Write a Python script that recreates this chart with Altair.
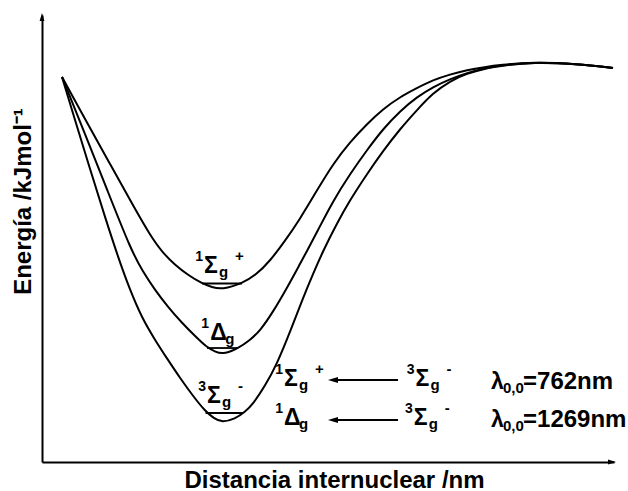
import altair as alt
import pandas as pd

FONT = "Liberation Sans"

# ---------------- potential energy curves (arbitrary units 0-100) ----------------
state_names = ["1Σg+", "1Δg", "3Σg-"]

r_sigma_plus = [3.50, 7.52, 11.89, 16.26, 18.88, 20.98, 23.25, 25.52, 27.97, 29.72, 31.47,
                34.97, 37.41, 39.86, 42.48, 45.10, 47.90, 50.87, 53.85, 56.82, 59.62, 62.59,
                65.56, 68.36, 71.33, 74.30, 77.45, 80.07, 85.84, 93.53, 99.83]
E_sigma_plus = [86.13, 76.73, 66.67, 56.60, 50.78, 46.98, 44.07, 41.83, 39.93, 39.08, 38.59,
                39.93, 41.83, 44.97, 49.44, 54.36, 60.40, 66.67, 71.59, 75.62, 78.97, 81.66,
                83.67, 85.46, 86.69, 87.70, 88.37, 88.81, 89.49, 89.04, 88.14]

r_delta = [3.50, 7.52, 11.54, 15.56, 17.66, 19.76, 22.03, 24.48, 26.75, 28.85, 30.24, 31.56,
           34.27, 36.36, 38.11, 40.38, 42.83, 45.10, 46.33, 48.08, 50.87, 53.85, 56.82, 59.62,
           62.59, 65.56, 68.36, 71.33, 74.30, 77.45, 80.07, 85.84, 93.53, 99.83]
E_delta = [86.13, 73.38, 60.40, 47.43, 42.51, 38.48, 34.68, 31.10, 28.19, 25.62, 24.72, 24.05,
           25.39, 27.29, 29.31, 33.56, 38.93, 44.30, 47.20, 51.45, 58.39, 64.43, 69.80, 74.50,
           78.52, 81.66, 83.89, 85.68, 87.02, 88.14, 88.70, 89.49, 89.04, 88.14]

r_triplet = [3.50, 5.77, 8.39, 11.01, 13.29, 15.38, 17.48, 19.76, 22.03, 24.13, 26.40, 28.50,
             30.07, 31.47, 33.74, 35.49, 36.89, 38.99, 41.08, 43.36, 45.63, 47.38, 49.13,
             51.40, 53.85, 56.82, 59.62, 62.59, 65.56, 68.36, 71.33, 74.30, 77.45, 80.07,
             85.84, 93.53, 99.83]
E_triplet = [86.13, 76.51, 65.55, 54.81, 45.86, 38.48, 32.21, 27.29, 22.82, 18.79, 14.77, 11.41,
             9.73, 8.84, 9.62, 11.19, 12.98, 17.00, 21.92, 29.08, 36.69, 42.06, 47.20,
             53.02, 58.61, 64.43, 69.57, 74.50, 78.75, 82.55, 85.23, 86.91, 88.03, 88.59,
             89.49, 89.04, 88.14]

# v = 0 vibrational levels
level_E = [39.93, 25.50, 10.96]
level_r_start = [27.97, 28.85, 28.59]
level_r_end = [34.97, 34.27, 35.14]

# term symbol labels: multiplicity, symbol, parity subscript, reflection sign
term_mult = ["1", "1", "3", "1", "3", "1", "3"]
term_sym = ["Σ", "Δ", "Σ", "Σ", "Σ", "Δ", "Σ"]
term_sub = ["g", "g", "g", "g", "g", "g", "g"]
term_sign = ["+", "", "-", "+", "-", "", "-"]

# transitions and wavelengths
wavelengths = ["762nm", "1269nm"]
lambda_sub = ["0,0", "0,0"]

# ---------------- tables ----------------
rows = []
for name, rs, es in zip(state_names, [r_sigma_plus, r_delta, r_triplet],
                        [E_sigma_plus, E_delta, E_triplet]):
    for i, (r, e) in enumerate(zip(rs, es)):
        rows.append({"state": name, "r": r, "E": e, "i": i})
curves = pd.DataFrame(rows)

levels = pd.DataFrame({"state": state_names, "E": level_E,
                       "r": level_r_start, "r2": level_r_end})

# annotation anchor positions (left/baseline of main glyph), in data units
term_r = [28.32, 29.40, 28.85, 42.31, 65.30, 42.31, 65.00]
term_E = [42.28, 27.29, 13.20, 17.00, 17.00, 8.28, 8.28]
terms = pd.DataFrame({"r": term_r, "E": term_E, "mult": term_mult, "sym": term_sym,
                      "sub": term_sub, "sign": term_sign})

arrow_E = [18.34, 9.40]
arrows = pd.DataFrame({"E": arrow_E, "r": [50.87, 50.87], "r2": [62.24, 62.24]})

lam = pd.DataFrame({"r": [78.5, 78.5], "E": [16.33, 7.83], "sub": lambda_sub,
                    "val": ["=" + w for w in wavelengths]})

axis_heads_y = pd.DataFrame({"r": [0.0], "E": [99.55]})
axis_heads_x = pd.DataFrame({"r": [99.65], "E": [0.0]})

# ---------------- scales & axes ----------------
xs = alt.Scale(domain=[0, 100], nice=False, zero=False)
ys = alt.Scale(domain=[0, 100], nice=False, zero=False)
xaxis = alt.Axis(title="Distancia internuclear /nm", ticks=False, labels=False, grid=False,
                 domainColor="black", domainWidth=2, titleFont=FONT, titleFontSize=24,
                 titleFontWeight="bold", titleColor="black", titleX=292, titleY=25,
                 titleAlign="center", titleBaseline="alphabetic")
yaxis = alt.Axis(title="Energía /kJmol⁻¹", ticks=False, labels=False, grid=False,
                 domainColor="black", domainWidth=2, titleFont=FONT, titleFontSize=24,
                 titleFontWeight="bold", titleColor="black", titleX=-12, titleY=186,
                 titleAlign="center", titleBaseline="alphabetic")


def X():
    return alt.X("r:Q", scale=xs, axis=xaxis)


def Y():
    return alt.Y("E:Q", scale=ys, axis=yaxis)


curve_layer = alt.Chart(curves).mark_line(
    color="black", strokeWidth=2, interpolate="basis"
).encode(x=X(), y=Y(), detail="state:N", order="i:Q")

level_layer = alt.Chart(levels).mark_rule(color="black", strokeWidth=1.8).encode(
    x=X(), x2="r2:Q", y=Y())

txt = dict(font=FONT, fontWeight="bold", color="black", baseline="alphabetic")
tb = alt.Chart(terms)
mult_layer = tb.mark_text(align="right", dx=-1, dy=-12, fontSize=14, **txt).encode(
    x=X(), y=Y(), text="mult:N")
sym_layer = tb.mark_text(align="left", fontSize=23, **txt).encode(x=X(), y=Y(), text="sym:N")
sub_layer = tb.mark_text(align="left", dx=15, dy=4, fontSize=15, **txt).encode(
    x=X(), y=Y(), text="sub:N")
sign_layer = tb.mark_text(align="left", dx=31, dy=-12, fontSize=15, **txt).encode(
    x=X(), y=Y(), text="sign:N")

arrow_rule = alt.Chart(arrows).mark_rule(color="black", strokeWidth=2).encode(
    x=X(), x2="r2:Q", y=Y())
arrow_head = alt.Chart(arrows).mark_point(
    shape="M-1,0L1,-0.6L1,0.6Z", size=100, filled=True, color="black", opacity=1
).encode(x=X(), y=Y())

lb = alt.Chart(lam)
lam_layer = lb.mark_text(align="left", fontSize=23, text="λ", **txt).encode(x=X(), y=Y())
lam_sub_layer = lb.mark_text(align="left", dx=12, dy=4, fontSize=15, **txt).encode(
    x=X(), y=Y(), text="sub:N")
lam_val_layer = lb.mark_text(align="left", dx=32, fontSize=24, **txt).encode(
    x=X(), y=Y(), text="val:N")

head_y = alt.Chart(axis_heads_y).mark_point(
    shape="M0,-1L0.6,1L-0.6,1Z", size=64, filled=True, color="black", opacity=1
).encode(x=X(), y=Y())
head_x = alt.Chart(axis_heads_x).mark_point(
    shape="M1,0L-1,-0.6L-1,0.6Z", size=64, filled=True, color="black", opacity=1
).encode(x=X(), y=Y())

chart = alt.layer(
    curve_layer, level_layer, mult_layer, sym_layer, sub_layer, sign_layer,
    arrow_rule, arrow_head, lam_layer, lam_sub_layer, lam_val_layer, head_y, head_x
).properties(
    width=572, height=447,
    padding={"left": 42, "top": 15, "right": 14, "bottom": 29},
    autosize=alt.AutoSizeParams(type="none"),
    background="white",
).configure_view(stroke="transparent")

chart.save("out.html", embed_options={"renderer": "svg", "actions": False})
